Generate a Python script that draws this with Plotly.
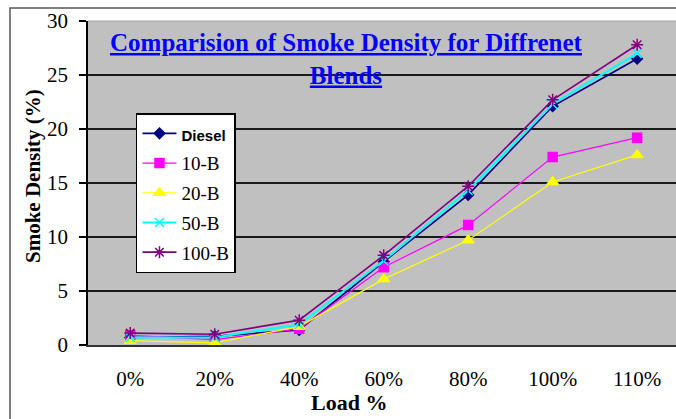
import plotly.graph_objects as go

loads = ["0%", "20%", "40%", "60%", "80%", "100%", "110%"]
diesel = [0.7, 0.8, 1.4, 7.7, 13.9, 22.1, 26.5]
b10 = [0.9, 0.5, 1.5, 7.2, 11.1, 17.4, 19.2]
b20 = [0.4, 0.2, 1.7, 6.1, 9.7, 15.1, 17.6]
b50 = [0.7, 0.7, 1.9, 7.8, 14.3, 22.3, 27.0]
b100 = [1.1, 1.0, 2.3, 8.3, 14.7, 22.7, 27.8]
y_ticks = [0, 5, 10, 15, 20, 25, 30]

SERIF = "Liberation Serif, Times New Roman, serif"

series = [
    ("<span style='font-family:Liberation Sans;font-size:15px'><b>Diesel</b></span>", diesel, "#000080", "diamond", 8, 1.6),
    ("10-B", b10, "#FF00FF", "square", 9, 1.2),
    ("20-B", b20, "#FFFF00", "triangle-up", 10, 1.2),
    ("50-B", b50, "#00FFFF", "x-thin-open", 9, 2.0),
    ("100-B", b100, "#800080", "asterisk-open", 10, 1.6),
]

fig = go.Figure()
for i, (name, vals, col, sym, size, lw) in enumerate(series):
    fig.add_trace(go.Scatter(
        x=loads, y=vals, name=name, mode="lines+markers",
        legendgroup=f"g{i}",
        line=dict(color=col, width=lw),
        marker=dict(symbol=sym, size=size, color=col,
                    line=dict(color=col, width=1.5)),
    ))

fig.update_layout(
    width=676, height=419,
    margin=dict(l=88, r=0, t=21, b=74),
    paper_bgcolor="white",
    plot_bgcolor="#C0C0C0",
    font=dict(family=SERIF, color="black", size=19),
    showlegend=True,
    legend=dict(
        x=0.0816, y=0.716, xanchor="left", yanchor="top",
        bgcolor="white", bordercolor="black", borderwidth=1.5,
        font=dict(family=SERIF, size=19, color="black"),
        tracegroupgap=2, itemwidth=34,
    ),
)

fig.update_xaxes(
    type="category", range=[-0.5, 6.46],
    showgrid=False, showline=True, linecolor="#333333", linewidth=1.5,
    ticks="", tickfont=dict(family=SERIF, size=21), ticklabelstandoff=14,
    zeroline=False,
)
fig.update_yaxes(
    range=[0, 30], tickvals=y_ticks,
    showgrid=True, gridcolor="#1a1a1a", gridwidth=1.5,
    showline=True, linecolor="black", linewidth=1.5,
    ticks="outside", ticklen=7, tickcolor="black", tickwidth=1.5,
    tickfont=dict(family=SERIF, size=21), ticklabelstandoff=7,
    zeroline=False,
)

# outer chart frame (left and top edges visible)
fig.add_shape(type="rect", xref="paper", yref="paper",
              x0=(10 - 88) / 588, x1=1.02, y0=-0.3, y1=(345 - 8) / 324,
              line=dict(color="#555555", width=1.5), layer="below")
# light top border of plot area
fig.add_shape(type="line", xref="paper", yref="paper",
              x0=0, x1=1, y0=1, y1=1, line=dict(color="#a0a0a0", width=1))

# chart title
fig.add_annotation(
    xref="paper", yref="paper", x=(346 - 88) / 588, y=(345 - 27) / 324,
    xanchor="center", yanchor="top", showarrow=False, align="center",
    text="<b><u>Comparision of Smoke Density for Diffrenet</u></b><br><b><u>Blends</u></b>",
    font=dict(family=SERIF, size=25, color="#0000FF"),
)
# axis titles
fig.add_annotation(
    xref="paper", yref="paper", x=(349 - 88) / 588, y=(345 - 403) / 324,
    xanchor="center", yanchor="middle", showarrow=False,
    text="<b>Load %</b>", font=dict(family=SERIF, size=22, color="black"),
)
fig.add_annotation(
    xref="paper", yref="paper", x=(33 - 88) / 588, y=(345 - 176) / 324,
    xanchor="center", yanchor="middle", showarrow=False, textangle=-90,
    text="<b>Smoke Density (%)</b>", font=dict(family=SERIF, size=21, color="black"),
)

fig.write_html("out.html")
